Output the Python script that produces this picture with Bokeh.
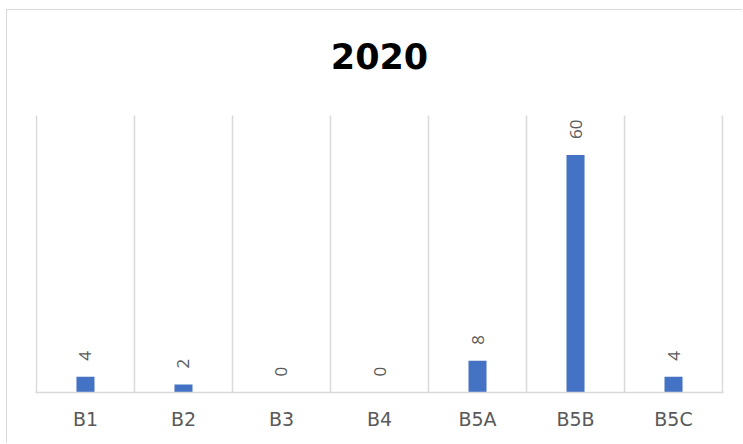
from bokeh.plotting import figure
from bokeh.models import ColumnDataSource, FixedTicker, Range1d
from bokeh.core.properties import value
from bokeh.embed import file_html
from bokeh.resources import INLINE
import math

categories = ["B1", "B2", "B3", "B4", "B5A", "B5B", "B5C"]
counts = [4, 2, 0, 0, 8, 60, 4]
title_text = "2020"
y_max = 70

n = len(categories)
xs = [i + 0.5 for i in range(n)]
bounds = list(range(n + 1))
source = ColumnDataSource(dict(x=xs, top=counts, label=[str(v) for v in counts]))

frame_h = 372
grid_h = 277
p = figure(width=736, height=434, output_backend="svg", toolbar_location=None,
           x_range=Range1d(-0.01, n + 0.01), y_range=Range1d(0, y_max * frame_h / grid_h),
           y_axis_location=None,
           min_border_left=28, min_border_right=20, min_border_top=10, min_border_bottom=52)
p.styles = {"border-left": "1px solid #d9d9d9", "border-top": "1px solid #d9d9d9",
            "margin-left": "6px", "margin-top": "9px"}
p.outline_line_color = None
p.background_fill_color = "white"
p.border_fill_color = "white"
p.xgrid.grid_line_color = None
p.ygrid.grid_line_color = None

# vertical separators between categories
p.segment(x0=bounds, y0=[0] * len(bounds), x1=bounds, y1=[y_max] * len(bounds),
          line_color="#d9d9d9", line_width=1.5)

# title
p.text(x=[n / 2], y=[y_max], text=[title_text], y_offset=-60,
       text_align="center", text_baseline="middle",
       text_font=value("DejaVu Sans"), text_font_size="35px",
       text_font_style="bold", text_color="#000000")

p.vbar(x="x", top="top", width=0.184, bottom=0, source=source,
       fill_color="#4472C4", line_color=None)

p.text(x="x", y="top", text="label", source=source, angle=math.pi / 2,
       text_align="left", text_baseline="middle", y_offset=-16,
       text_font=value("Open Sans"), text_font_size="17px", text_color="#595959")

ax = p.xaxis[0]
ax.ticker = FixedTicker(ticks=xs)
ax.major_label_overrides = {x: c for x, c in zip(xs, categories)}
ax.major_tick_line_color = None
ax.minor_tick_line_color = None
ax.major_tick_out = 0
ax.major_label_standoff = 15
ax.axis_line_color = "#d9d9d9"
ax.axis_line_width = 1.5
ax.major_label_text_font = "DejaVu Sans"
ax.major_label_text_font_size = "19px"
ax.major_label_text_color = "#595959"

open("out.html", "w").write(file_html(p, INLINE))
